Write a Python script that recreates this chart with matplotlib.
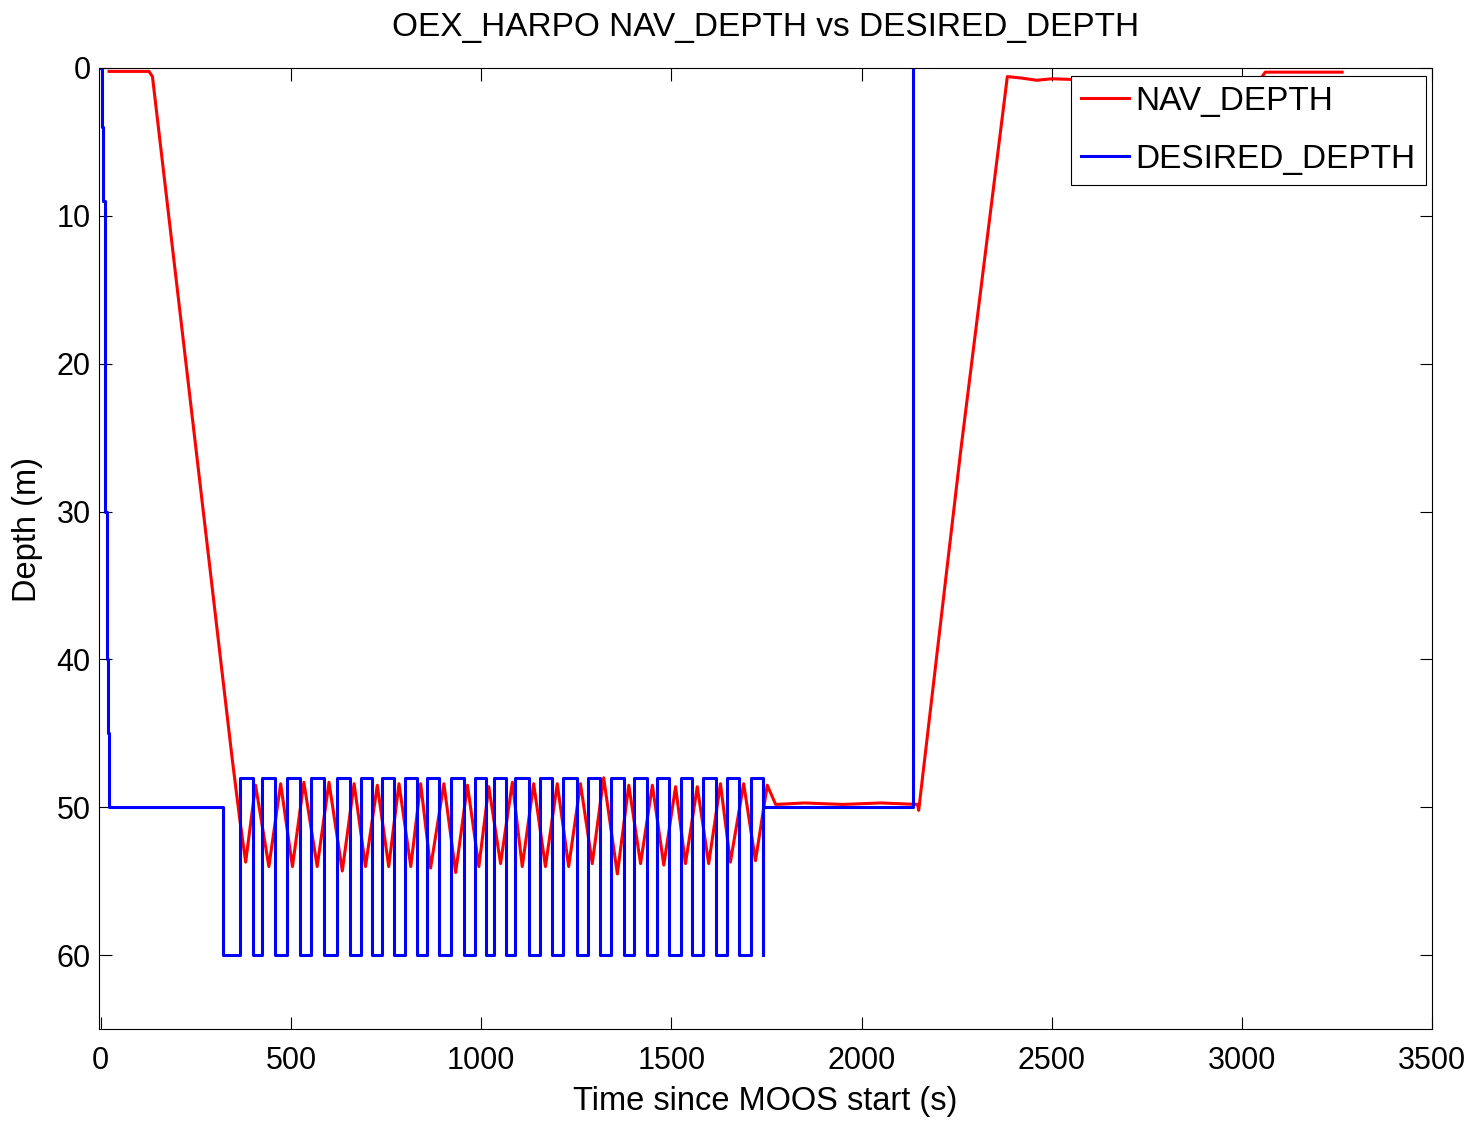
import numpy as np
import matplotlib
matplotlib.use("Agg")
import matplotlib.pyplot as plt

plt.rcParams["font.family"] = ["Liberation Sans", "DejaVu Sans"]

# DESIRED_DEPTH: switch times (s) and the depth held from that time on (m)
desired_t = [0, 3, 5, 11, 16, 18, 21,
             321, 366, 400, 425, 458, 489, 523, 554, 587, 620, 654, 683,
             714, 740, 771, 801, 832, 858, 889, 922, 955, 983, 1012, 1033,
             1064, 1090, 1125, 1154, 1187, 1216, 1251, 1280, 1312, 1340,
             1375, 1401, 1436, 1463, 1493, 1524, 1555, 1584, 1616, 1645,
             1677, 1708, 1741, 1741, 2135]
desired_d = [0, 4, 9, 30, 40, 45, 50,
             60, 48, 60, 48, 60, 48, 60, 48, 60, 48, 60, 48,
             60, 48, 60, 48, 60, 48, 60, 48, 60, 48, 60, 48,
             60, 48, 60, 48, 60, 48, 60, 48, 60, 48,
             60, 48, 60, 48, 60, 48, 60, 48, 60, 48,
             60, 48, 60, 50, 0]

# NAV_DEPTH: measured depth (m)
nav_t = [22, 127, 136, 346, 365, 381,
         407, 442, 473, 504, 534, 569, 600, 635, 666, 696, 727, 757,
         784, 815, 841, 867, 902, 933, 964, 994, 1020, 1051, 1082, 1108,
         1138, 1169, 1200, 1230, 1261, 1292, 1322, 1358, 1388, 1419,
         1450, 1480, 1511, 1537, 1568, 1598, 1629, 1655, 1690, 1721, 1752,
         1774, 1850, 1950, 2050, 2147, 2150, 2260, 2383,
         2420, 2460, 2500, 2560, 3050, 3061, 3263]
nav_d = [0.25, 0.25, 0.6, 46.8, 50.7, 53.7,
         48.5, 54.0, 48.4, 54.0, 48.3, 54.0, 48.3, 54.3, 48.4, 54.0, 48.5, 54.0,
         48.4, 54.0, 48.4, 54.1, 48.4, 54.4, 48.5, 54.0, 48.6, 53.8, 48.3, 54.0,
         48.4, 54.0, 48.4, 54.0, 48.4, 53.8, 48.0, 54.5, 48.5, 53.8,
         48.5, 53.9, 48.6, 53.8, 48.6, 53.8, 48.4, 53.7, 48.4, 53.6, 48.5,
         49.8, 49.7, 49.8, 49.7, 49.8, 50.2, 26.0, 0.6,
         0.7, 0.85, 0.75, 0.8, 0.7, 0.3, 0.3]

W, H = 1472, 1122
fig = plt.figure(figsize=(W / 100, H / 100), dpi=100, facecolor="white")
ax = fig.add_axes([99 / W, 1 - 1029.3 / H, 1333.3 / W, 961.6 / H])

ax.plot(nav_t, nav_d, color="#FF0000", lw=2.2, label="NAV_DEPTH", zorder=2)
ax.plot(desired_t, desired_d, color="#0000FF", lw=2.2, drawstyle="steps-post",
        label="DESIRED_DEPTH", zorder=3)

ax.set_xlim(-4.5, 3500)
ax.set_ylim(65, 0)
ax.set_xticks(np.arange(0, 3501, 500))
ax.set_yticks(np.arange(0, 61, 10))

ax.tick_params(direction="in", length=9, width=0.8, top=True, right=True,
               labelsize=22, colors="black")
ax.tick_params(axis="x", pad=12)
ax.tick_params(axis="y", pad=6)
for sp in ax.spines.values():
    sp.set_linewidth(0.8)
    sp.set_color("black")
    sp.set_zorder(4)

ax.set_title("OEX_HARPO NAV_DEPTH vs DESIRED_DEPTH", fontsize=24, pad=23)
ax.set_xlabel("Time since MOOS start (s)", fontsize=23.5, va="center")
ax.xaxis.set_label_coords(0.5, -0.0756)
ax.set_ylabel("Depth (m)", fontsize=23.5, va="center")
ax.yaxis.set_label_coords(-0.0533, 0.52)

leg = ax.legend(loc="upper right", bbox_to_anchor=(0.995, 0.9917),
                fontsize=24, frameon=True, fancybox=False, edgecolor="black",
                framealpha=1, borderaxespad=0, handlelength=1.44,
                handletextpad=0.2, borderpad=0.3, labelspacing=0.82)
leg.get_frame().set_linewidth(0.8)
leg.set_zorder(5)

plt.savefig("out.png", dpi=100, facecolor="white")
